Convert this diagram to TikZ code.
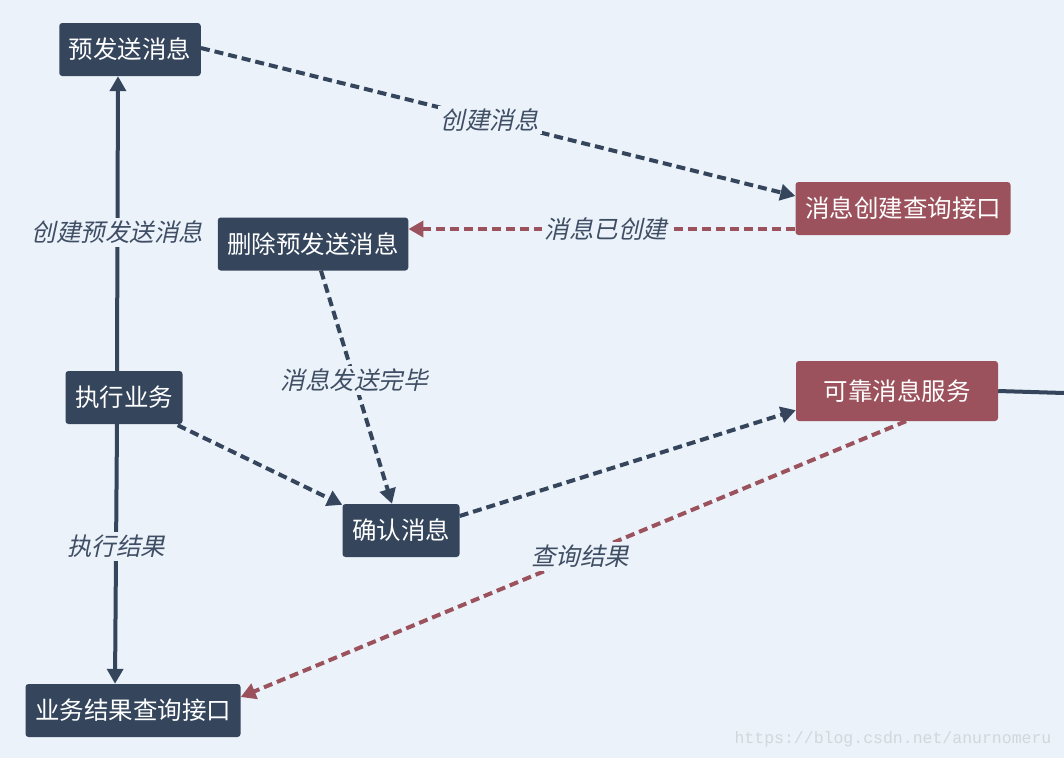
\documentclass[tikz,border=0pt]{standalone}
\usepackage{fontspec}
\newfontfamily\cjk{Noto Sans CJK SC}
\newfontfamily\cjkit{Noto Sans CJK SC}[FakeSlant=0.22]
\newfontfamily\wmfont{Liberation Mono}
\usetikzlibrary{arrows.meta,calc}
\definecolor{bg}{HTML}{EBF2F9}
\definecolor{navy}{HTML}{34455C}
\definecolor{wine}{HTML}{9C525C}
\definecolor{lbl}{HTML}{3F4E64}
\definecolor{wm}{HTML}{D2D7DC}
\tikzset{
  box/.style={rounded corners=3pt, text=white, inner xsep=9.5pt, minimum height=53pt, font=\cjk\fontsize{24.5}{28}\selectfont},
  navybox/.style={box, fill=navy},
  winebox/.style={box, fill=wine},
  conn/.style={line width=4pt, -{Triangle[length=15pt,width=16pt]}},
  navyline/.style={conn, draw=navy},
  wineline/.style={conn, draw=wine},
  dashline/.style={dash pattern=on 9pt off 5pt},
  lab/.style={fill=bg, text=lbl, inner sep=3pt, font=\cjkit\fontsize{24.5}{28}\selectfont}
}
\begin{document}
\begin{tikzpicture}[x=1pt,y=-1pt]
\fill[bg] (0,0) rectangle (1064,758);
\useasboundingbox (0,0) rectangle (1064,758);

\node[navybox] (yfs) at (130,49.5) {预发送消息};
\node[winebox] (xc) at (903,208.5) {消息创建查询接口};
\node[navybox] (sc) at (313,244) {删除预发送消息};
\node[navybox] (zx) at (124,397.5) {执行业务};
\node[navybox] (qr) at (401,530.5) {确认消息};
\node[winebox, minimum width=202pt, minimum height=60pt] (kk) at (897,391) {可靠消息服务};
\node[navybox] (yw) at (133,710.5) {业务结果查询接口};
\coordinate (out) at (1064,393);

\draw[navyline] ([xshift=-7pt]zx.north) -- node[lab,pos=0.47] {创建预发送消息} ([xshift=-12pt]yfs.south);
\draw[navyline,dashline] ([yshift=1.5pt]yfs.east) -- node[lab,pos=0.486] {创建消息} ([yshift=12.5pt]xc.west);
\draw[wineline,dashline] ([yshift=-20.5pt]xc.west) -- node[lab,pos=0.49] {消息已创建} ([yshift=15pt]sc.east);
\draw[navyline,dashline] ([xshift=8pt]sc.south) -- node[lab,pos=0.47] {消息发送完毕} ([xshift=-9pt]qr.north);
\draw[navyline,dashline] ([xshift=-5pt,yshift=-1pt]zx.south east) -- ([yshift=-1pt]qr.north west);
\draw[navyline,dashline] ([yshift=14.5pt]qr.east) -- ([yshift=11pt]kk.south west);
\draw[wineline,dashline] ([xshift=9pt]kk.south) -- node[lab,pos=0.49] {查询结果} ([yshift=13.5pt]yw.east);
\draw[navyline] ([xshift=-7pt]zx.south) -- node[lab,pos=0.47] {执行结果} ([xshift=-18pt]yw.north);
\draw[line width=4pt, draw=navy] (kk.east) -- (out);

\node[text=wm, font=\wmfont\fontsize{16.5}{18}\selectfont] (wmk) at (893,739) {https://blog.csdn.net/anurnomeru};
\end{tikzpicture}
\end{document}
